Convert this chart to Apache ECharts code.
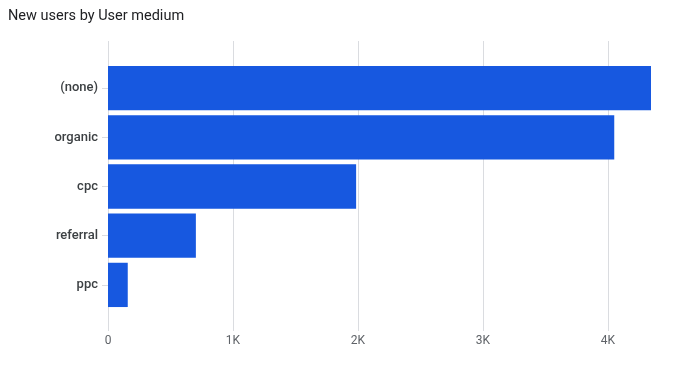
<!DOCTYPE html>
<html>
<head>
<meta charset="utf-8">
<script src="https://cdn.jsdelivr.net/npm/echarts@6/dist/echarts.min.js"></script>
<style>
html,body{margin:0;padding:0;background:#fff;}
#chart{width:688px;height:370px;}
</style>
</head>
<body>
<div id="chart"></div>
<script>
const categories = ['(none)', 'organic', 'cpc', 'referral', 'ppc'];
const newUsers = [4344, 4050, 1985, 703, 158];
const xTicks = [0, 1000, 2000, 3000, 4000];
const xTickLabels = ['0', '1K', '2K', '3K', '4K'];
const title = 'New users by User medium';

const X_MAX = 4400;
const chart = echarts.init(document.getElementById('chart'), null, {renderer: 'canvas'});
chart.setOption({
  animation: false,
  backgroundColor: '#ffffff',
  title: {
    text: title, left: 3, top: 4,
    textStyle: {fontFamily: 'Roboto', fontSize: 14.5, fontWeight: 'normal', color: '#202124'}
  },
  grid: [
    {left: 108, right: 30, top: 63.5, height: 246},
    {left: 108, right: 30, top: 41, bottom: 39}
  ],
  xAxis: [
    {gridIndex: 0, type: 'value', min: 0, max: X_MAX, interval: 1000, show: false},
    {gridIndex: 1, type: 'value', min: 0, max: X_MAX, interval: 1000,
      axisLine: {show: false}, axisTick: {show: false},
      splitLine: {show: true, showMaxLine: false, lineStyle: {color: '#dadce0', width: 1}},
      axisLabel: {
        margin: 4, color: '#5f6368', fontFamily: 'Roboto', fontSize: 12,
        showMaxLabel: false,
        formatter: v => { const i = xTicks.indexOf(v); return i >= 0 ? xTickLabels[i] : ''; }
      }
    }
  ],
  yAxis: [
    {gridIndex: 0, type: 'category', data: categories, inverse: true,
      axisLine: {show: false},
      axisTick: {show: true, alignWithLabel: true, length: 6, lineStyle: {color: '#dadce0'}},
      axisLabel: {margin: 10, color: '#3c4043', fontFamily: 'Roboto', fontSize: 13, fontWeight: 500}
    },
    {gridIndex: 1, type: 'value', show: false}
  ],
  series: [{
    type: 'bar', xAxisIndex: 0, yAxisIndex: 0,
    data: newUsers,
    barCategoryGap: '10%',
    itemStyle: {color: '#1758e0'}
  }]
});
</script>
</body>
</html>
